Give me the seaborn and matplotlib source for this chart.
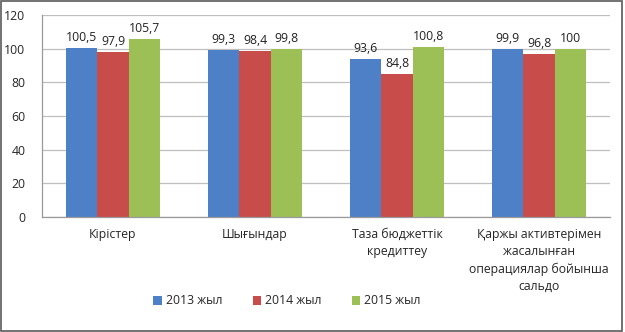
import matplotlib
matplotlib.use("Agg")
import matplotlib.pyplot as plt
from matplotlib.patches import Rectangle
from matplotlib.ticker import FixedLocator, MultipleLocator
import seaborn as sns
import pandas as pd

categories = [
    "Кірістер",
    "Шығындар",
    "Таза бюджеттік\nкредиттеу",
    "Қаржы активтерімен\nжасалынған\nоперациялар бойынша\nсальдо",
]
series = ["2013 жыл", "2014 жыл", "2015 жыл"]
values_2013 = [100.5, 99.3, 93.6, 99.9]
values_2014 = [97.9, 98.4, 84.8, 96.8]
values_2015 = [105.7, 99.8, 100.8, 100.0]
value_labels = [
    ["100,5", "99,3", "93,6", "99,9"],
    ["97,9", "98,4", "84,8", "96,8"],
    ["105,7", "99,8", "100,8", "100"],
]
colors = ["#4E80C8", "#C84C49", "#9CC056"]

rows = []
for name, vals in zip(series, [values_2013, values_2014, values_2015]):
    for cat, v in zip(categories, vals):
        rows.append({"category": cat, "series": name, "value": v})
df = pd.DataFrame(rows)

sns.set_style("white")
plt.rcParams["font.family"] = ["Open Sans", "DejaVu Sans"]
plt.rcParams["font.size"] = 8.8

fig = plt.figure(figsize=(6.25, 3.32), dpi=100)
ax = fig.add_axes([0.0672, 0.3464, 0.9088, 0.6084])

sns.barplot(data=df, x="category", y="value", hue="series", order=categories,
            hue_order=series, palette=colors, width=0.66, saturation=1,
            edgecolor="none", ax=ax, legend=True)

# value labels above each bar
for container, labels in zip(ax.containers, value_labels):
    ax.bar_label(container, labels=labels, padding=3, fontsize=8.8, color="#222222")

ax.set_ylim(0, 120)
ax.set_xlim(-0.5, len(categories) - 0.5)
ax.yaxis.set_major_locator(MultipleLocator(20))
ax.grid(axis="y", color="#BFBFBF", linewidth=0.9)
ax.set_axisbelow(True)
ax.set_xlabel("")
ax.set_ylabel("")

for side in ["top", "right"]:
    ax.spines[side].set_visible(False)
for side in ["left", "bottom"]:
    ax.spines[side].set_color("#9A9A9A")
    ax.spines[side].set_linewidth(0.9)

ax.tick_params(axis="y", length=4, color="#9A9A9A", pad=8, labelsize=8.8)
ax.tick_params(axis="x", which="major", length=0, pad=8, labelsize=8.8)
ax.xaxis.set_minor_locator(FixedLocator([i - 0.5 for i in range(len(categories) + 1)]))
ax.tick_params(axis="x", which="minor", length=4, color="#9A9A9A")
for lbl in ax.get_xticklabels():
    lbl.set_linespacing(1.4)

handles, labs = ax.get_legend_handles_labels()
ax.legend_.remove()
fig.legend(handles, labs, loc="center", bbox_to_anchor=(287 / 625, 1 - 301 / 332),
           ncol=3, frameon=False, fontsize=8.8, handlelength=0.7, handleheight=0.7,
           handletextpad=0.3, columnspacing=2.5)

fig.patches.append(Rectangle((0.001, 0.002), 0.994, 0.994, transform=fig.transFigure,
                             fill=False, edgecolor="#5A5A5A", linewidth=1.2))

fig.savefig("out.png", dpi=100, facecolor="white")
